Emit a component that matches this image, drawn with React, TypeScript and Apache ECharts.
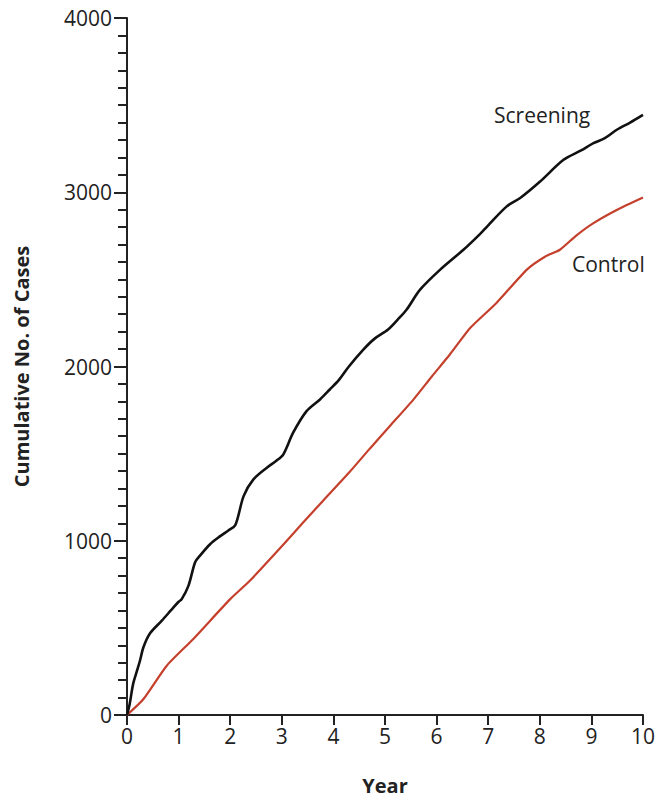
import React, { useEffect, useRef } from "react";
import * as echarts from "echarts";

const screeningYears = [0, 0.05, 0.12, 0.2, 0.25, 0.32, 0.45, 0.67, 0.85, 1.0, 1.06, 1.19, 1.32, 1.41, 1.61, 1.8, 1.97, 2.1, 2.26, 2.45, 2.71, 2.9, 3.03, 3.22, 3.48, 3.74, 3.93, 4.1, 4.3, 4.58, 4.8, 5.06, 5.25, 5.42, 5.68, 6.07, 6.52, 6.84, 7.0, 7.36, 7.62, 8.0, 8.46, 8.8, 9.04, 9.26, 9.5, 9.75, 10];
const screeningCases = [0, 60, 180, 260, 310, 390, 470, 540, 600, 650, 665, 741, 877, 913, 980, 1025, 1060, 1090, 1256, 1352, 1419, 1460, 1496, 1620, 1744, 1811, 1868, 1920, 2000, 2097, 2160, 2212, 2270, 2327, 2441, 2556, 2670, 2760, 2810, 2919, 2967, 3060, 3186, 3240, 3282, 3310, 3360, 3400, 3444];

const controlYears = [0, 0.32, 0.77, 1.28, 2.0, 2.38, 2.96, 3.4, 3.8, 4.3, 4.71, 5.1, 5.55, 5.9, 6.26, 6.65, 7.16, 7.75, 8.1, 8.39, 8.7, 9.04, 9.5, 10];
const controlCases = [0, 92, 283, 435, 665, 770, 955, 1100, 1230, 1390, 1530, 1660, 1810, 1940, 2070, 2221, 2365, 2556, 2630, 2670, 2750, 2823, 2900, 2970];

const xTicks = { min: 0, max: 10, interval: 1 };
const yTicks = { min: 0, max: 4000, interval: 1000 };

const FONT = "'Open Sans', sans-serif";
const INK = "#222";

export default function App() {
  const ref = useRef<HTMLDivElement>(null);
  useEffect(() => {
    if (!ref.current) return;
    const chart = echarts.init(ref.current, undefined, { renderer: "svg" });
    const zip = (xs: number[], ys: number[]) => xs.map((x, i) => [x, ys[i]]);
    chart.setOption({
      animation: false,
      backgroundColor: "#fff",
      grid: { left: 127, right: 16, top: 18, bottom: 84, containLabel: false },
      xAxis: {
        type: "value",
        min: xTicks.min,
        max: xTicks.max,
        interval: xTicks.interval,
        name: "Year",
        nameLocation: "middle",
        nameGap: 60,
        nameTextStyle: { fontFamily: FONT, fontSize: 20, fontWeight: "bold", color: INK },
        axisLine: { show: true, lineStyle: { color: INK, width: 2 } },
        axisTick: { show: true, length: 10, lineStyle: { color: INK, width: 2 } },
        axisLabel: { margin: 10, fontFamily: FONT, fontSize: 21, color: INK, formatter: (v: number) => String(v) },
        splitLine: { show: false },
      },
      yAxis: {
        type: "value",
        min: yTicks.min,
        max: yTicks.max,
        interval: yTicks.interval,
        name: "Cumulative No. of Cases",
        nameLocation: "middle",
        nameGap: 96,
        nameTextStyle: { fontFamily: FONT, fontSize: 20, fontWeight: "bold", color: INK },
        axisLine: { show: true, lineStyle: { color: INK, width: 2 } },
        axisTick: { show: true, length: 13, lineStyle: { color: INK, width: 2 } },
        minorTick: { show: true, splitNumber: 10, length: 9, lineStyle: { color: INK, width: 2 } },
        axisLabel: { margin: 15, fontFamily: FONT, fontSize: 21, color: INK, formatter: (v: number) => String(v) },
        splitLine: { show: false },
        minorSplitLine: { show: false },
      },
      series: [
        {
          name: "Screening",
          type: "line",
          data: zip(screeningYears, screeningCases),
          showSymbol: false,
          smooth: 0.3,
          lineStyle: { color: "#111", width: 2.6 },
          z: 3,
        },
        {
          name: "Control",
          type: "line",
          data: zip(controlYears, controlCases),
          showSymbol: false,
          smooth: 0.2,
          lineStyle: { color: "#c5402c", width: 2.2 },
          z: 2,
        },
      ],
      graphic: [
        {
          type: "text",
          left: 494,
          top: 104,
          style: { text: "Screening", fontFamily: FONT, fontSize: 21, fill: INK },
        },
        {
          type: "text",
          left: 572,
          top: 253,
          style: { text: "Control", fontFamily: FONT, fontSize: 21, fill: INK },
        },
      ],
    });
    return () => chart.dispose();
  }, []);
  return <div ref={ref} style={{ position: "absolute", left: 0, top: 0, width: 659, height: 800 }} />;
}
